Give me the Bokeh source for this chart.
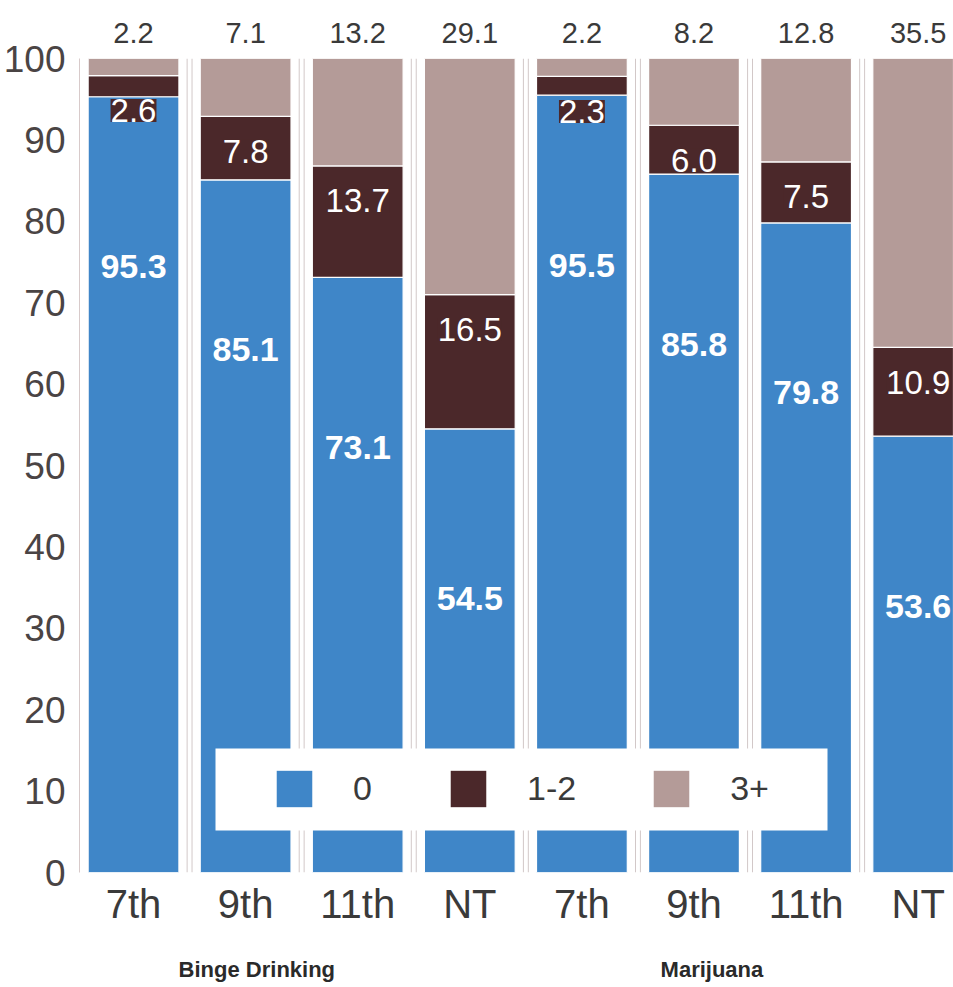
from bokeh.plotting import figure
from bokeh.models import (ColumnDataSource, Range1d, FixedTicker, LabelSet,
                          LinearAxis, BoxAnnotation)
from bokeh.embed import file_html
from bokeh.resources import INLINE
from bokeh.core.properties import value

# ---- data ----
grades = ["7th", "9th", "11th", "NT", "7th", "9th", "11th", "NT"]
groups = ["Binge Drinking", "Marijuana"]
series = ["0", "1-2", "3+"]
zero = [95.3, 85.1, 73.1, 54.5, 95.5, 85.8, 79.8, 53.6]
one_two = [2.6, 7.8, 13.7, 16.5, 2.3, 6.0, 7.5, 10.9]
three_plus = [2.2, 7.1, 13.2, 29.1, 2.2, 8.2, 12.8, 35.5]
y_ticks = list(range(0, 101, 10))

# ---- style ----
BLUE = "#3f86c8"
DARK = "#4b282a"
MAUVE = "#b49b98"
FONT = "Liberation Sans"
TXT = "#3a3a3a"

xs = list(range(len(grades)))
src = ColumnDataSource(dict(
    x=xs,
    z=zero,
    o=one_two,
    t=three_plus,
    z_lab=[f"{v:.1f}" for v in zero],
    o_lab=[f"{v:.1f}" for v in one_two],
    z_top=zero,
    o_top=[a + b for a, b in zip(zero, one_two)],
))

X0, X1 = -0.482, 7.315
p = figure(width=953, height=987,
           x_range=Range1d(X0, X1), y_range=Range1d(0, 100),
           x_axis_location=None,
           output_backend="svg", toolbar_location=None,
           min_border_left=79, min_border_right=0,
           min_border_top=58, min_border_bottom=115)
p.outline_line_color = None
p.xgrid.visible = False
p.ygrid.visible = False
p.background_fill_color = "white"

# separators (double thin lines between bars)
sep_x = []
for i in range(len(xs) - 1):
    m = i + 0.5
    sep_x += [m - 0.022, m + 0.022]
p.segment(x0=sep_x, x1=sep_x, y0=[0] * len(sep_x), y1=[100] * len(sep_x),
          line_color="#d2c8c8", line_width=1)

p.vbar_stack(["z", "o", "t"], x="x", width=0.81, source=src,
             color=[BLUE, DARK, MAUVE], line_color="white", line_width=1.2,
             legend_label=series)

# in-bar labels
blue_lab = LabelSet(x="x", y="z_top", text="z_lab", source=src, y_offset=-170,
                    text_align="center", text_baseline="middle",
                    text_color="white", text_font=value(FONT),
                    text_font_style="bold", text_font_size="34px")
dark_lab = LabelSet(x="x", y="o_top", text="o_lab", source=src, y_offset=-35,
                    text_align="center", text_baseline="middle",
                    text_color="white", text_font=value(FONT),
                    text_font_size="33px",
                    background_fill_color=DARK)
p.add_layout(blue_lab)
p.add_layout(dark_lab)


def plain_axis(ax, size, standoff, color, style="normal"):
    ax.axis_line_color = None
    ax.major_tick_line_color = None
    ax.minor_tick_line_color = None
    ax.major_label_standoff = standoff
    ax.major_label_text_font = FONT
    ax.major_label_text_font_size = size
    ax.major_label_text_font_style = style
    ax.major_label_text_color = color


# grade labels below
grade_ax = LinearAxis(ticker=FixedTicker(ticks=xs),
                      major_label_overrides={i: g for i, g in zip(xs, grades)})
plain_axis(grade_ax, "40px", 3, TXT)
p.add_layout(grade_ax, "below")

# group labels: second axis below, on its own range (group index 0, 1)
GX = [1.1, 5.16]
scale = GX[1] - GX[0]
p.extra_x_ranges = {"grp": Range1d((X0 - GX[0]) / scale, (X1 - GX[0]) / scale)}
grp_ax = LinearAxis(x_range_name="grp", ticker=FixedTicker(ticks=[0, 1]),
                    major_label_overrides={i: g for i, g in enumerate(groups)})
plain_axis(grp_ax, "22px", 22, "#2a2a2a", "bold")
p.add_layout(grp_ax, "below")

# top labels (3+ values) as an axis above the frame
top_ax = LinearAxis(ticker=FixedTicker(ticks=xs),
                    major_label_overrides={i: f"{v:.1f}" for i, v in zip(xs, three_plus)})
plain_axis(top_ax, "29px", 10, TXT)
p.add_layout(top_ax, "above")

# y axis
p.yaxis.ticker = FixedTicker(ticks=y_ticks)
p.yaxis.axis_line_color = "#d8caca"
p.yaxis.major_tick_line_color = None
p.yaxis.minor_tick_line_color = None
p.yaxis.major_label_standoff = 8
p.yaxis.major_label_text_font = FONT
p.yaxis.major_label_text_font_size = "37px"
p.yaxis.major_label_text_color = "#4a4444"

# white backdrop for the legend
backdrop = BoxAnnotation(left=215, right=827, top=748, bottom=830,
                         left_units="canvas", right_units="canvas",
                         top_units="canvas", bottom_units="canvas",
                         fill_color="white", fill_alpha=1.0, line_color=None,
                         level="guide")
p.add_layout(backdrop)

# legend
lg = p.legend[0]
lg.orientation = "horizontal"
lg.location = (192, 60)
lg.glyph_width = 46
lg.glyph_height = 47
lg.label_standoff = 36
lg.spacing = 72
lg.padding = 0
lg.margin = 0
lg.label_text_font = FONT
lg.label_text_font_size = "34px"
lg.label_text_color = TXT
lg.border_line_color = None
lg.background_fill_alpha = 0.0

open("out.html", "w").write(file_html(p, INLINE))
